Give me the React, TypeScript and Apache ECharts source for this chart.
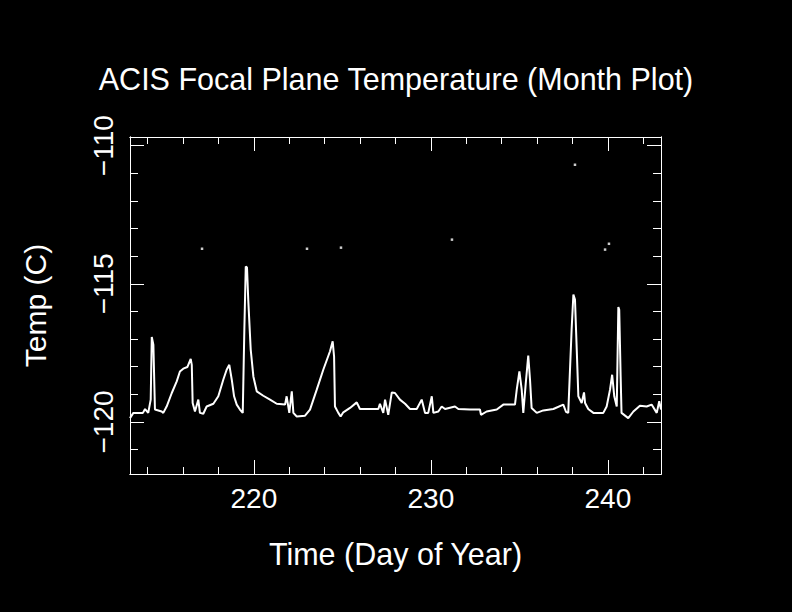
import React, { useEffect, useRef } from "react";
import * as echarts from "echarts";

// Day of year for the continuous temperature trace
const days = [
  213.0, 213.19, 213.73, 213.85, 214.03, 214.17, 214.23, 214.32, 214.41, 214.79,
  214.88, 215.07, 215.36, 215.64, 215.82, 216.01, 216.24, 216.43, 216.49, 216.54,
  216.67, 216.86, 216.95, 217.14, 217.33, 217.71, 217.99, 218.27, 218.46, 218.61,
  218.75, 218.88, 219.03, 219.21, 219.37, 219.46, 219.54, 219.61, 219.68, 219.82,
  219.97, 220.16, 220.53, 220.91, 221.29, 221.76, 221.85, 222.0, 222.14, 222.23,
  222.42, 222.89, 223.17, 223.55, 223.92, 224.3, 224.45, 224.53, 224.58, 224.77,
  224.9, 225.05, 225.43, 225.81, 225.99, 227.03, 227.12, 227.31, 227.41, 227.59,
  227.79, 227.97, 228.25, 228.54, 228.82, 229.2, 229.48, 229.67, 229.85, 230.05,
  230.14, 230.42, 230.61, 230.8, 231.36, 231.55, 232.21, 232.77, 232.83, 233.15,
  233.72, 234.09, 234.75, 234.85, 235.0, 235.13, 235.22, 235.36, 235.5, 235.6,
  235.69, 235.98, 236.35, 236.92, 237.48, 237.63, 237.76, 237.95, 238.05, 238.14,
  238.24, 238.33, 238.52, 238.65, 238.71, 238.89, 239.18, 239.74, 239.93, 240.12,
  240.24, 240.36, 240.5, 240.59, 240.64, 240.72, 240.77, 241.15, 241.44, 241.81,
  242.19, 242.47, 242.76, 242.9, 243.0,
];

// Focal plane temperature (C) for the trace
const temps = [
  -119.86, -119.67, -119.67, -119.53, -119.67, -119.19, -116.92, -117.2, -119.55, -119.62,
  -119.67, -119.44, -118.95, -118.53, -118.17, -118.07, -118.01, -117.72, -117.93, -119.31,
  -119.62, -119.19, -119.67, -119.7, -119.44, -119.34, -119.07, -118.47, -118.11, -117.93,
  -118.47, -119.07, -119.37, -119.55, -119.67, -116.66, -114.37, -114.41, -115.57, -117.38,
  -118.35, -118.89, -119.05, -119.19, -119.34, -119.37, -119.07, -119.67, -118.89, -119.67,
  -119.8, -119.77, -119.55, -118.83, -118.11, -117.44, -117.08, -117.63, -119.44, -119.67,
  -119.8, -119.65, -119.49, -119.29, -119.53, -119.53, -119.34, -119.67, -119.19, -119.74,
  -118.93, -118.95, -119.19, -119.34, -119.53, -119.53, -119.19, -119.67, -119.67, -119.07,
  -119.67, -119.62, -119.44, -119.53, -119.44, -119.53, -119.55, -119.55, -119.74, -119.62,
  -119.55, -119.37, -119.37, -118.83, -118.17, -118.83, -119.67, -118.59, -117.6, -118.47,
  -119.49, -119.67, -119.58, -119.53, -119.37, -119.63, -119.67, -116.66, -115.39, -115.57,
  -117.38, -119.07, -119.31, -118.93, -119.31, -119.53, -119.67, -119.67, -119.44, -118.83,
  -118.29, -119.07, -119.44, -115.84, -115.94, -118.35, -119.67, -119.86, -119.62, -119.41,
  -119.44, -119.37, -119.67, -119.25, -119.55,
];

// Isolated outlier readings
const isoDays = [217.07, 223.0, 224.92, 231.19, 238.14, 239.84, 240.06];
const isoTemps = [-113.73, -113.73, -113.69, -113.4, -110.69, -113.76, -113.55];

// Axis ticks
const xMajor = [220, 230, 240];
const xMinor = [214, 216, 218, 220, 222, 224, 226, 228, 230, 232, 234, 236, 238, 240, 242];
const yMajor = [-120, -115, -110];
const yMinor = [-121, -120, -119, -118, -117, -116, -115, -114, -113, -112, -111, -110];

const X_MIN = 213;
const X_MAX = 243;
const Y_MIN = -121.882;
const Y_MAX = -109.685;

const FONT = "Liberation Sans";
const WHITE = "#ffffff";

function xAxis(position: string, ticks: number[], len: number, labels?: number[]) {
  return {
    type: "value",
    min: X_MIN,
    max: X_MAX,
    position,
    axisLine: { show: true, onZero: false, lineStyle: { color: WHITE, width: 1 } },
    axisTick: { show: true, inside: true, length: len, customValues: ticks, lineStyle: { color: WHITE, width: 1 } },
    axisLabel: labels
      ? { show: true, customValues: labels, color: WHITE, fontSize: 28, fontFamily: FONT, margin: 10 }
      : { show: false },
    splitLine: { show: false },
  };
}

function yAxis(position: string, ticks: number[], len: number, labels?: number[]) {
  return {
    type: "value",
    min: Y_MIN,
    max: Y_MAX,
    position,
    axisLine: { show: true, onZero: false, lineStyle: { color: WHITE, width: 1 } },
    axisTick: { show: true, inside: true, length: len, customValues: ticks, lineStyle: { color: WHITE, width: 1 } },
    axisLabel: labels
      ? {
          show: true,
          customValues: labels,
          color: WHITE,
          fontSize: 28,
          fontFamily: FONT,
          rotate: 90,
          margin: 13,
          formatter: (v: number) => (v < 0 ? "\u2212" + Math.abs(v) : String(v)),
        }
      : { show: false },
    splitLine: { show: false },
  };
}

export default function App() {
  const ref = useRef<HTMLDivElement>(null);

  useEffect(() => {
    if (!ref.current) return;
    const chart = echarts.init(ref.current, undefined, { renderer: "svg" });
    const xA: any[] = [
      {
        ...xAxis("bottom", xMajor, 14, xMajor),
        name: "Time (Day of Year)",
        nameLocation: "middle",
        nameGap: 64,
        nameTextStyle: { color: WHITE, fontSize: 30.5, fontFamily: FONT },
      },
      xAxis("bottom", xMinor, 7),
      xAxis("top", xMajor, 14),
      xAxis("top", xMinor, 7),
    ];
    const yA: any[] = [
      {
        ...yAxis("left", yMajor, 14, yMajor),
        name: "Temp (C)",
        nameLocation: "middle",
        nameRotate: 90,
        nameGap: 80,
        nameTextStyle: { color: WHITE, fontSize: 30, fontFamily: FONT },
      },
      yAxis("left", yMinor, 8),
      yAxis("right", yMajor, 14),
      yAxis("right", yMinor, 8),
    ];
    chart.setOption({
      animation: false,
      backgroundColor: "#000000",
      title: {
        text: "ACIS Focal Plane Temperature (Month Plot)",
        left: "center",
        top: 58,
        textStyle: { color: WHITE, fontSize: 30.5, fontWeight: "normal", fontFamily: FONT },
      },
      grid: { left: 130, top: 137, width: 531, height: 337, containLabel: false },
      xAxis: xA,
      yAxis: yA,
      series: [
        {
          type: "line",
          xAxisIndex: 0,
          yAxisIndex: 0,
          data: days.map((d, i) => [d, temps[i]]),
          showSymbol: false,
          symbol: "none",
          lineStyle: { color: WHITE, width: 2 },
          silent: true,
        },
        {
          type: "scatter",
          xAxisIndex: 0,
          yAxisIndex: 0,
          data: isoDays.map((d, i) => [d, isoTemps[i]]),
          symbol: "rect",
          symbolSize: 2.5,
          itemStyle: { color: WHITE },
          silent: true,
        },
      ],
    });
    return () => chart.dispose();
  }, []);

  return (
    <div
      ref={ref}
      style={{ position: "fixed", left: 0, top: 0, width: 792, height: 612, background: "#000" }}
    />
  );
}
